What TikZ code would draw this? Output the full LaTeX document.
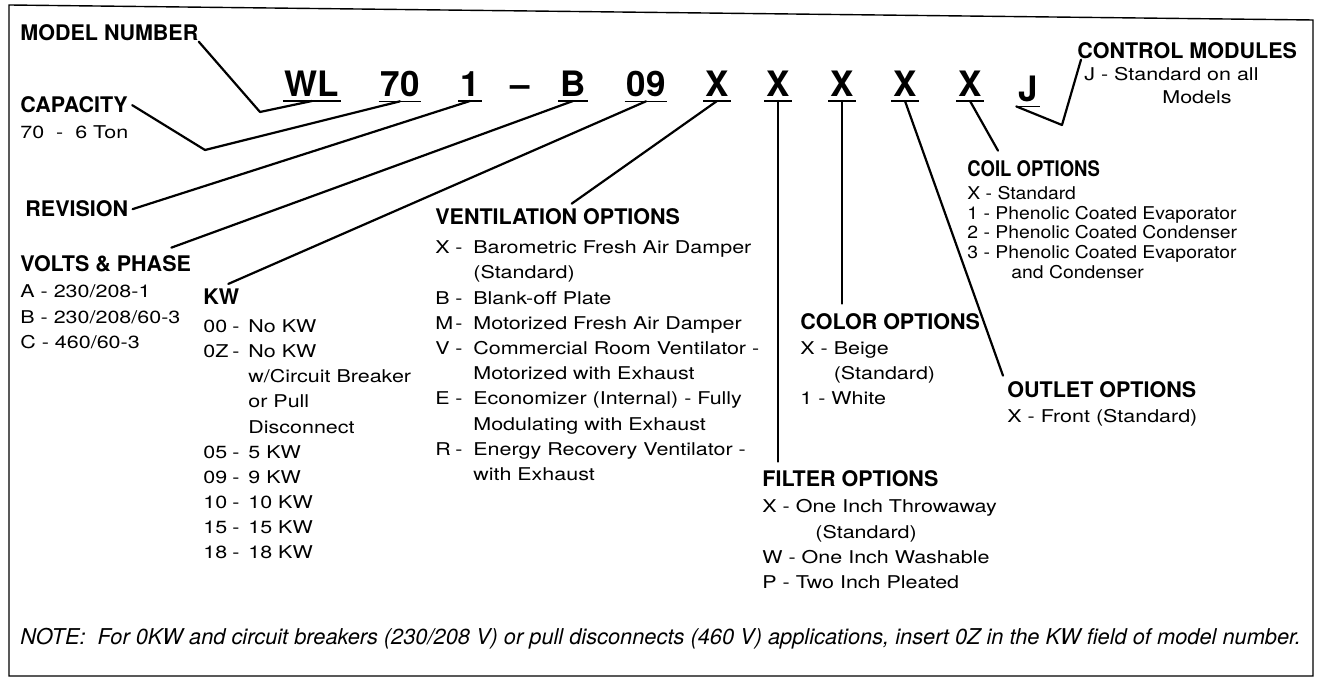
\documentclass[tikz,border=0pt]{standalone}
\usepackage{fontspec}
\setmainfont{TeX Gyre Heros}
\newfontfamily\listfont[FakeStretch=1.22]{TeX Gyre Heros}
\newfontfamily\coilfont[FakeStretch=1.1]{TeX Gyre Heros}
\newfontfamily\narrowfont[FakeStretch=0.86]{TeX Gyre Heros}
\usepackage{tikz}
\usetikzlibrary{positioning, calc}

% key and dash columns of an option list
\newcommand{\ky}[2][10pt]{\makebox[#1][l]{#2}\makebox[9pt][l]{-}}
\newcommand{\kk}[1]{\makebox[14.5pt][l]{#1}\makebox[8pt][l]{-}}

\tikzset{
  hdr/.style={inner sep=0pt, anchor=base west, font=\fontsize{10.75}{12}\selectfont\bfseries},
  lst/.style={inner sep=0pt, align=left, font=\listfont\fontsize{8.8}{#1}\selectfont},
  lst/.default=12.6,
  code/.style={inner xsep=0.8pt, inner ysep=1.8pt, anchor=base, font=\fontsize{17.5}{18}\selectfont\bfseries},
  lead/.style={line width=1.1pt, line join=round, line cap=round},
  uline/.style={line width=0.6pt},
  frame/.style={line width=0.7pt, line join=miter},
  note/.style={inner sep=0pt, anchor=base west, font=\fontsize{10.9}{12}\selectfont\itshape}
}

\begin{document}
\begin{tikzpicture}[x=0.5pt, y=-0.5pt]
  \useasboundingbox (0,0) rectangle (1319,683);
  \draw[frame] (9,5) -- (1313,20) -- (1313,676) -- (9,676) -- cycle;

  % model number fields
  \foreach \nm/\cx/\txt in {wl/312/WL, n70/400/70, rv/470/1, vp/573/B, kw/646/09,
      xa/717/X, xb/778/X, xc/842/X, xd/905/X, xe/970/X}
    \node[code] (\nm) at (\cx,97) {\txt};
  \node[code] (jj) at (1028,102) {J};
  \node[code] (dash) at (520,97) {--};
  \foreach \nm in {wl,n70,rv,vp,kw,xa,xb,xc,xd,xe,jj}
    \draw[uline] (\nm.south west) -- (\nm.south east);

  % left column
  \node[hdr] (mnhd) at (20,41) {MODEL NUMBER};
  \node[hdr] (caphd) at (20,113) {CAPACITY};
  \node[lst, below right=6.2pt and 0pt of caphd.base west] (caplst) {70\ \ -\ \ 6 Ton};
  \node[hdr] (revhd) at (25,217) {REVISION};
  \node[hdr] (volhd) at (20,272) {VOLTS \& PHASE};
  \node[lst=12.75, below right=6.2pt and 0pt of volhd.base west] (vollst)
    {A - 230/208-1\\ B - 230/208/60-3\\ C - 460/60-3};
  \node[hdr] (kwhd) at (203,305) {KW};
  \node[lst=12.55, below right=7.2pt and 0pt of kwhd.base west] (kwlst)
    {\kk{00}No KW\\ \kk{0Z}No KW\\ \hspace*{22.5pt}w/Circuit Breaker\\
     \hspace*{22.5pt}or Pull\\ \hspace*{22.5pt}Disconnect\\ \kk{05}5 KW\\
     \kk{09}9 KW\\ \kk{10}10 KW\\ \kk{15}15 KW\\ \kk{18}18 KW};

  % middle
  \node[hdr] (venthd) at (435,225) {VENTILATION OPTIONS};
  \node[lst, below right=7.7pt and 0pt of venthd.base west] (ventlst)
    {\ky{X}Barometric Fresh Air Damper\\ \hspace*{19pt}(Standard)\\ \ky{B}Blank-off Plate\\
     \ky{M}Motorized Fresh Air Damper\\ \ky{V}Commercial Room Ventilator -\\
     \hspace*{19pt}Motorized with Exhaust\\ \ky{E}Economizer (Internal) - Fully\\
     \hspace*{19pt}Modulating with Exhaust\\ \ky{R}Energy Recovery Ventilator -\\
     \hspace*{19pt}with Exhaust};
  \node[hdr] (colhd) at (800,330) {COLOR OPTIONS};
  \node[lst=12.5, below right=5.7pt and 0pt of colhd.base west] (collst)
    {X - Beige\\ \phantom{X - }(Standard)\\ 1 - White};
  \node[hdr] (filthd) at (762,487) {FILTER OPTIONS};
  \node[lst=12.65, below right=6.2pt and 0pt of filthd.base west] (filtlst)
    {X - One Inch Throwaway\\ \hspace*{26.5pt}(Standard)\\ W - One Inch Washable\\ P - Two Inch Pleated};

  % right column
  \node[hdr, font=\narrowfont\fontsize{10.75}{12}\selectfont\bfseries] (coilhd) at (967,177) {COIL OPTIONS};
  \node[lst, font=\coilfont\fontsize{8.8}{9.85}\selectfont, below right=4.4pt and 0pt of coilhd.base west] (coillst)
    {X - Standard\\ 1 - Phenolic Coated Evaporator\\ 2 - Phenolic Coated Condenser\\
     3 - Phenolic Coated Evaporator\\ \hspace*{22pt}and Condenser};
  \node[hdr] (outhd) at (1007,398) {OUTLET OPTIONS};
  \node[lst, below right=5.5pt and 0pt of outhd.base west] (outlst) {X - Front (Standard)};
  \node[hdr] (ctlhd) at (1077,59) {CONTROL MODULES};
  \node[lst=11.5, below right=4.2pt and 3.5pt of ctlhd.base west] (ctllst)
    {J - Standard on all\\ \hspace*{39pt}Models};

  \node[note] (note) at (20,645) {NOTE:\ \ For 0KW and circuit breakers (230/208 V) or pull disconnects (460 V) applications, insert 0Z in the KW field of model number.};

  % leaders
  \draw[lead] (mnhd.south east) -- (260,112) -- (wl.south);
  \draw[lead] ([xshift=2pt]caphd.east) -- (205,150) -- (n70.south);
  \draw[lead] ([xshift=2pt]revhd.east) -- (rv.south);
  \draw[lead] ([xshift=-10pt,yshift=4pt]volhd.north east) -- (vp.south);
  \draw[lead] ([xshift=3.5pt,yshift=2.5pt]kwhd.north) -- (kw.south);
  \draw[lead] ([xshift=7pt,yshift=2.5pt]venthd.north) -- (xa.south);
  \draw[lead] (xb.south) -- ($(xb.south |- filthd.north)+(0,-9)$);
  \draw[lead] (xc.south) -- ($(xc.south |- colhd.north)+(0,-10)$);
  \draw[lead] (xd.south) -- ([xshift=-2pt,yshift=3pt]outhd.north west);
  \draw[lead] (xe.south) -- ([xshift=15.5pt,yshift=5pt]coilhd.north west);
  \draw[lead] (jj.south west) -- (1062,125) -- ([xshift=2pt]ctlhd.south west);
\end{tikzpicture}
\end{document}
